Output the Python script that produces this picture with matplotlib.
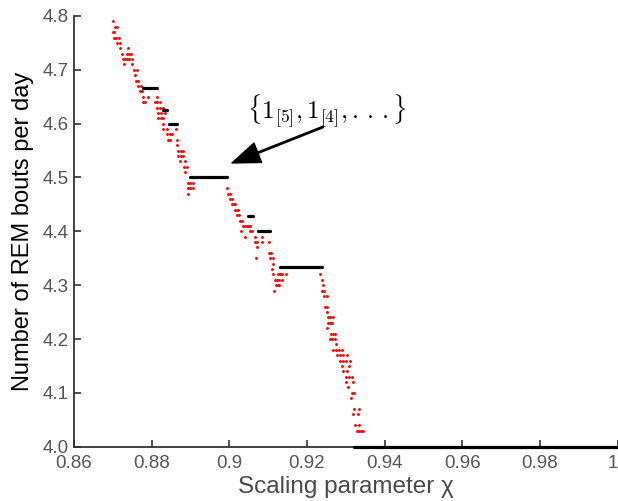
import matplotlib
matplotlib.use("Agg")
import matplotlib.pyplot as plt
from matplotlib.ticker import FixedLocator, FixedFormatter

plt.rcParams['font.family'] = ['Liberation Sans', 'DejaVu Sans']
plt.rcParams['mathtext.fontset'] = 'cm'

# red points
red_x = [0.8701, 0.8706, 0.8711, 0.8701, 0.8704, 0.8704, 0.8709, 0.8716, 0.8711, 0.8719,
         0.8719, 0.8739, 0.8724, 0.8737, 0.8742, 0.8747, 0.8726, 0.8731, 0.8737, 0.8742,
         0.8749, 0.8729, 0.8749, 0.8755, 0.8762, 0.8757, 0.8760, 0.8765, 0.8765, 0.8773,
         0.8770, 0.8775, 0.8778, 0.8791, 0.8814, 0.8778, 0.8783, 0.8809,
         0.8814, 0.8822, 0.8814, 0.8822, 0.8829, 0.8816, 0.8824, 0.8835, 0.8816, 0.8824,
         0.8829, 0.8829, 0.8829, 0.8840, 0.8863, 0.8840, 0.8847, 0.8853, 0.8842, 0.8847,
         0.8865, 0.8865, 0.8868, 0.8876, 0.8881, 0.8868, 0.8876, 0.8881, 0.8873, 0.8886,
         0.8884, 0.8891, 0.8886, 0.8894, 0.8899, 0.8907, 0.8894, 0.8899, 0.8907, 0.8894,
         0.8994, 0.8997, 0.9002, 0.9002, 0.9007, 0.9007, 0.9012, 0.9015, 0.9015, 0.9020,
         0.9023, 0.9020, 0.9025, 0.9028, 0.9033, 0.9036, 0.9041, 0.9046, 0.9048, 0.9054,
         0.9054, 0.9059, 0.9030, 0.9041, 0.9066, 0.9085, 0.9066, 0.9072, 0.9085, 0.9103,
         0.9072, 0.9103, 0.9108, 0.9069, 0.9105, 0.9113, 0.9113, 0.9110, 0.9113, 0.9126,
         0.9131, 0.9136, 0.9146, 0.9118, 0.9123, 0.9128, 0.9136, 0.9121, 0.9126, 0.9128,
         0.9115,
         0.9234, 0.9239, 0.9242, 0.9239, 0.9244, 0.9244, 0.9252, 0.9247, 0.9252, 0.9252,
         0.9255, 0.9260, 0.9268, 0.9255, 0.9260, 0.9265, 0.9252, 0.9262, 0.9268, 0.9273,
         0.9260, 0.9265, 0.9273, 0.9275, 0.9268, 0.9275, 0.9283, 0.9291, 0.9278, 0.9286,
         0.9293, 0.9304, 0.9286, 0.9293, 0.9301, 0.9311, 0.9291, 0.9309, 0.9293, 0.9304,
         0.9301, 0.9309, 0.9316, 0.9301, 0.9319, 0.9306, 0.9316, 0.9322, 0.9314, 0.9322,
         0.9335, 0.9319, 0.9332, 0.9324, 0.9335, 0.9329, 0.9335, 0.9340, 0.9345]
red_y = [4.79, 4.78, 4.78, 4.77, 4.77, 4.76, 4.76, 4.76, 4.75, 4.75,
         4.74, 4.74, 4.73, 4.73, 4.73, 4.73, 4.72, 4.72, 4.72, 4.72,
         4.72, 4.71, 4.71, 4.70, 4.70, 4.69, 4.68, 4.68, 4.67, 4.67,
         4.66, 4.66, 4.65, 4.65, 4.65, 4.64, 4.64, 4.64,
         4.64, 4.64, 4.63, 4.63, 4.63, 4.62, 4.62, 4.62, 4.61, 4.61,
         4.61, 4.60, 4.59, 4.59, 4.59, 4.58, 4.58, 4.58, 4.57, 4.57,
         4.57, 4.56, 4.55, 4.55, 4.55, 4.54, 4.54, 4.54, 4.53, 4.53,
         4.52, 4.52, 4.51, 4.49, 4.49, 4.49, 4.48, 4.48, 4.48, 4.47,
         4.48, 4.47, 4.47, 4.46, 4.46, 4.45, 4.45, 4.45, 4.44, 4.44,
         4.44, 4.43, 4.43, 4.42, 4.42, 4.41, 4.41, 4.41, 4.41, 4.41,
         4.40, 4.40, 4.40, 4.39, 4.39, 4.39, 4.38, 4.38, 4.38, 4.38,
         4.37, 4.36, 4.36, 4.35, 4.35, 4.35, 4.34, 4.33, 4.32, 4.32,
         4.32, 4.32, 4.32, 4.31, 4.31, 4.31, 4.31, 4.30, 4.30, 4.30,
         4.29,
         4.32, 4.31, 4.30, 4.29, 4.29, 4.28, 4.28, 4.26, 4.26, 4.25,
         4.24, 4.24, 4.24, 4.23, 4.23, 4.23, 4.22, 4.21, 4.21, 4.21,
         4.20, 4.20, 4.20, 4.19, 4.18, 4.18, 4.18, 4.18, 4.17, 4.17,
         4.17, 4.17, 4.16, 4.16, 4.16, 4.16, 4.15, 4.15, 4.14, 4.14,
         4.13, 4.13, 4.13, 4.12, 4.12, 4.11, 4.10, 4.10, 4.09, 4.07,
         4.07, 4.06, 4.06, 4.04, 4.04, 4.03, 4.03, 4.03, 4.03]

# black plateaus (start, end, level)
black_x0 = [0.8712, 0.8742, 0.8755, 0.8778, 0.8827, 0.8829, 0.8845, 0.8881, 0.8899,
            0.9007, 0.9015, 0.9020, 0.9036, 0.9048, 0.9073, 0.9131, 0.9247, 0.9322]
black_x1 = [0.8712, 0.8742, 0.8755, 0.8814, 0.8827, 0.8840, 0.8865, 0.8881, 0.8994,
            0.9007, 0.9015, 0.9020, 0.9036, 0.9061, 0.9105, 0.9238, 0.9247, 1.0]
black_y = [4.8, 4.75, 4.7, 4.6667, 4.6364, 4.625, 4.6, 4.5714, 4.5,
           4.4706, 4.4615, 4.4545, 4.4444, 4.4286, 4.4, 4.3333, 4.2727, 4.0]

xticks = [0.86, 0.88, 0.90, 0.92, 0.94, 0.96, 0.98, 1.0]
xtick_labels = ['0.86', '0.88', '0.9', '0.92', '0.94', '0.96', '0.98', '1']
yticks = [4.0, 4.1, 4.2, 4.3, 4.4, 4.5, 4.6, 4.7, 4.8]
ytick_labels = ['4.0', '4.1', '4.2', '4.3', '4.4', '4.5', '4.6', '4.7', '4.8']

fig = plt.figure(figsize=(6.18, 5.01), dpi=100)
ax = fig.add_axes([0.1197, 0.1084, 0.8795, 0.8597])

ax.plot(red_x, red_y, linestyle='none', marker='o', markersize=2.1,
        markerfacecolor='red', markeredgewidth=0, clip_on=False)
ax.hlines(black_y, black_x0, black_x1, colors='black', linewidth=2.3,
          capstyle='round', clip_on=False, zorder=3)

# label and arrow
ax.text(0.9045, 4.587, r'$\{1_{[5]}, 1_{[4]}, .\,.\,.\}$', fontsize=18,
        ha='left', va='bottom')
ax.annotate('', xy=(0.9007, 4.527), xytext=(0.9242, 4.594),
            arrowprops=dict(facecolor='black', edgecolor='black', width=1.0,
                            headwidth=15, headlength=20, shrink=0.0))

ax.set_xlim(0.86, 1.0)
ax.set_ylim(4.0, 4.8)
ax.xaxis.set_major_locator(FixedLocator(xticks))
ax.xaxis.set_major_formatter(FixedFormatter(xtick_labels))
ax.yaxis.set_major_locator(FixedLocator(yticks))
ax.yaxis.set_major_formatter(FixedFormatter(ytick_labels))

for side in ['top', 'right']:
    ax.spines[side].set_visible(False)
for side in ['left', 'bottom']:
    ax.spines[side].set_color('#333333')
    ax.spines[side].set_linewidth(1.3)
ax.tick_params(direction='in', length=5, width=1.2, color='#333333',
               labelsize=13.5, labelcolor='#555555')
ax.tick_params(axis='x', pad=6)
ax.tick_params(axis='y', pad=4)
ax.get_xticklabels()[-1].set_horizontalalignment('right')

ax.set_xlabel('Scaling parameter χ', fontsize=17.5, color='#4a4a4a', labelpad=3)
ax.set_ylabel('Number of REM bouts per day', fontsize=17, color='black', labelpad=6)

fig.savefig('out.png', dpi=100)
